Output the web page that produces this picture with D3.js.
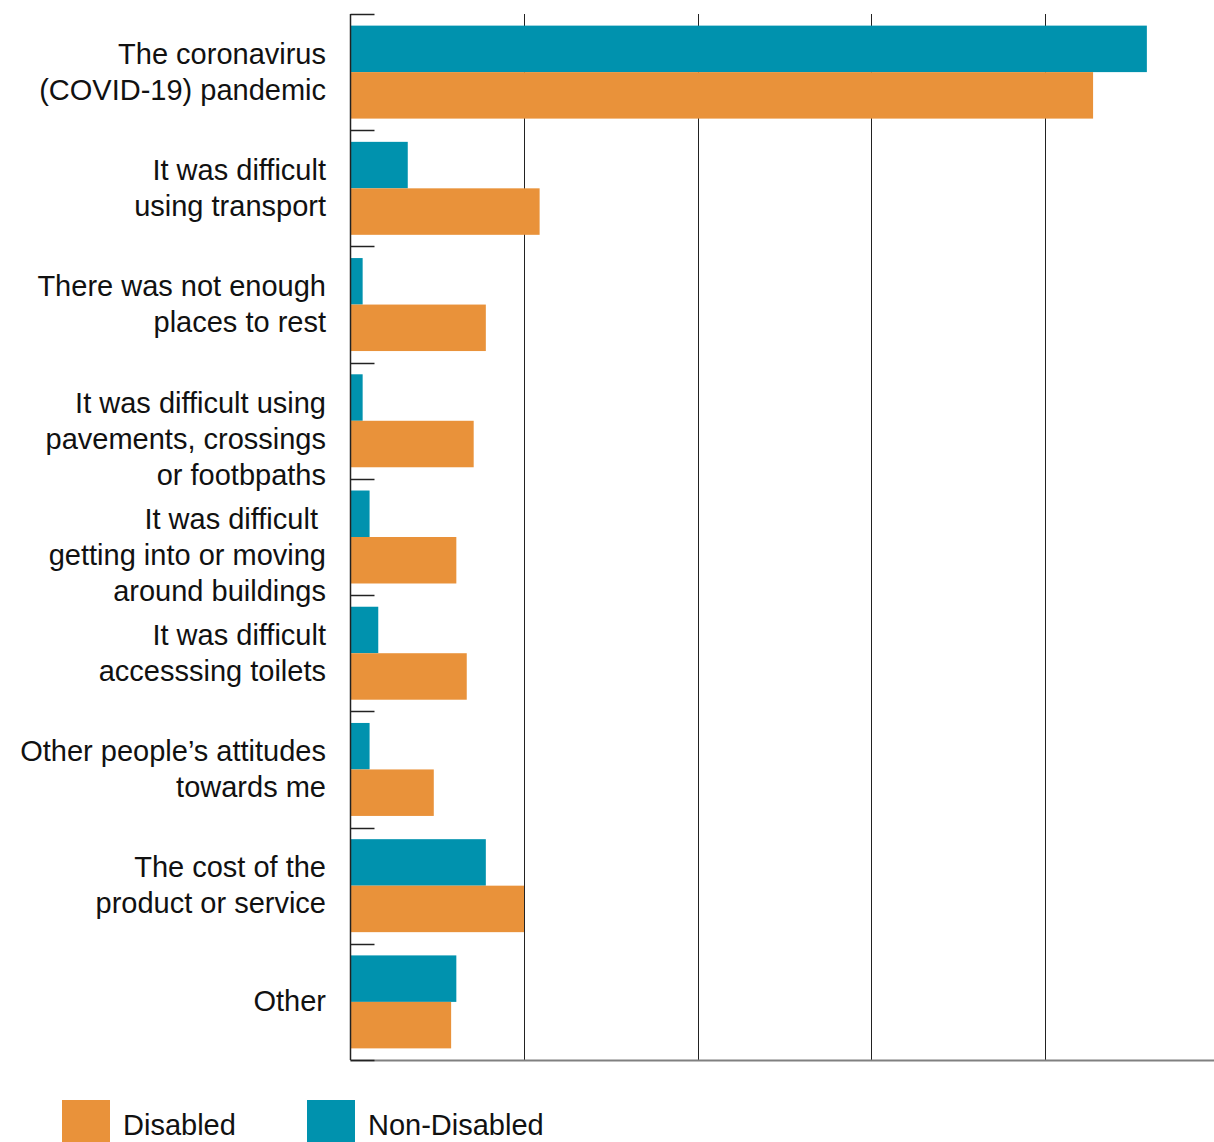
<!DOCTYPE html>
<html>
<head>
<meta charset="utf-8">
<script src="https://cdn.jsdelivr.net/npm/d3@7"></script>
<style>
  html, body { margin: 0; padding: 0; background: #fff; }
  svg { display: block; font-family: "Liberation Sans", Arial, Helvetica, sans-serif; }
</style>
</head>
<body>
<div id="chart"></div>
<script>
const categories = [
  ["The coronavirus", "(COVID-19) pandemic"],
  ["It was difficult", "using transport"],
  ["There was not enough", "places to rest"],
  ["It was difficult using", "pavements, crossings", "or footbpaths"],
  ["It was difficult ", "getting into or moving", "around buildings"],
  ["It was difficult", "accesssing toilets"],
  ["Other people\u2019s attitudes", "towards me"],
  ["The cost of the", "product or service"],
  ["Other"]
];
const seriesNames = ["Non-Disabled", "Disabled"];
const nonDisabled = [45.9, 3.3, 0.7, 0.7, 1.1, 1.6, 1.1, 7.8, 6.1];
const disabled = [42.8, 10.9, 7.8, 7.1, 6.1, 6.7, 4.8, 10.0, 5.8];
const gridValues = [10, 20, 30, 40];
const legendItems = ["Disabled", "Non-Disabled"];

const width = 1214, height = 1142;
const colors = { "Non-Disabled": "#0092ae", "Disabled": "#e9923a" };
const x0 = 350.5, plotTop = 14, plotBottom = 1060;

const svg = d3.select("#chart").append("svg")
  .attr("width", width).attr("height", height);

const x = d3.scaleLinear().domain([0, 50]).range([x0, x0 + 867.5]);
const y = d3.scaleBand().domain(d3.range(categories.length)).range([plotTop, plotBottom]);
const ySub = d3.scaleBand().domain(seriesNames).range([0, y.bandwidth()])
  .paddingInner(0).paddingOuter(0.25);

const rows = categories.map((c, i) => ({ i, values: [
  { key: "Non-Disabled", value: nonDisabled[i] },
  { key: "Disabled", value: disabled[i] }
] }));

// gridlines
svg.append("g").selectAll("line")
  .data(gridValues)
  .join("line")
  .attr("x1", (d) => Math.round(x(d)) + 0.5)
  .attr("x2", (d) => Math.round(x(d)) + 0.5)
  .attr("y1", plotTop).attr("y2", plotBottom)
  .attr("stroke", "#222").attr("stroke-width", 1);

// bars
svg.append("g").selectAll("g")
  .data(rows)
  .join("g")
  .attr("transform", (d) => `translate(0,${y(d.i)})`)
  .selectAll("rect")
  .data((d) => d.values)
  .join("rect")
  .attr("x", x(0))
  .attr("y", (d) => ySub(d.key))
  .attr("width", (d) => x(d.value) - x(0))
  .attr("height", ySub.bandwidth())
  .attr("fill", (d) => colors[d.key]);

// bottom axis line
svg.append("line")
  .attr("x1", x0).attr("x2", width)
  .attr("y1", plotBottom + 0.5).attr("y2", plotBottom + 0.5)
  .attr("stroke", "#808080").attr("stroke-width", 2);

// vertical axis
svg.append("line")
  .attr("x1", x0).attr("x2", x0)
  .attr("y1", plotTop).attr("y2", plotBottom)
  .attr("stroke", "#222").attr("stroke-width", 1.5);

// category boundary ticks
const bounds = d3.range(categories.length + 1).map((i) => plotTop + i * y.step());
svg.append("g").selectAll("line")
  .data(bounds)
  .join("line")
  .attr("x1", x0).attr("x2", x0 + 24)
  .attr("y1", (d) => Math.round(d) + 0.5).attr("y2", (d) => Math.round(d) + 0.5)
  .attr("stroke", "#222").attr("stroke-width", 1.5);

// category labels
const lineH = 36;
svg.append("g").selectAll("text")
  .data(categories)
  .join("text")
  .attr("text-anchor", "end")
  .attr("font-size", 29)
  .attr("fill", "#111")
  .each(function (lines, i) {
    const cy = y(i) + y.bandwidth() / 2;
    const first = cy - (Math.min(lines.length, 2) - 1) * lineH / 2 + (lines.length > 2 ? 0 : -1);
    d3.select(this).selectAll("tspan")
      .data(lines)
      .join("tspan")
      .attr("x", 326)
      .attr("y", (d, k) => first + k * lineH)
      .attr("dy", "0.36em")
      .style("white-space", "pre")
      .text((d) => d);
  });

// legend
const legendX = [62, 307];
const legend = svg.append("g").selectAll("g")
  .data(legendItems)
  .join("g")
  .attr("transform", (d, i) => `translate(${legendX[i]},1100)`);
legend.append("rect")
  .attr("width", 48).attr("height", 48)
  .attr("fill", (d) => colors[d]);
legend.append("text")
  .attr("x", 61).attr("y", 35)
  .attr("font-size", 29).attr("fill", "#111")
  .text((d) => d);
</script>
</body>
</html>
